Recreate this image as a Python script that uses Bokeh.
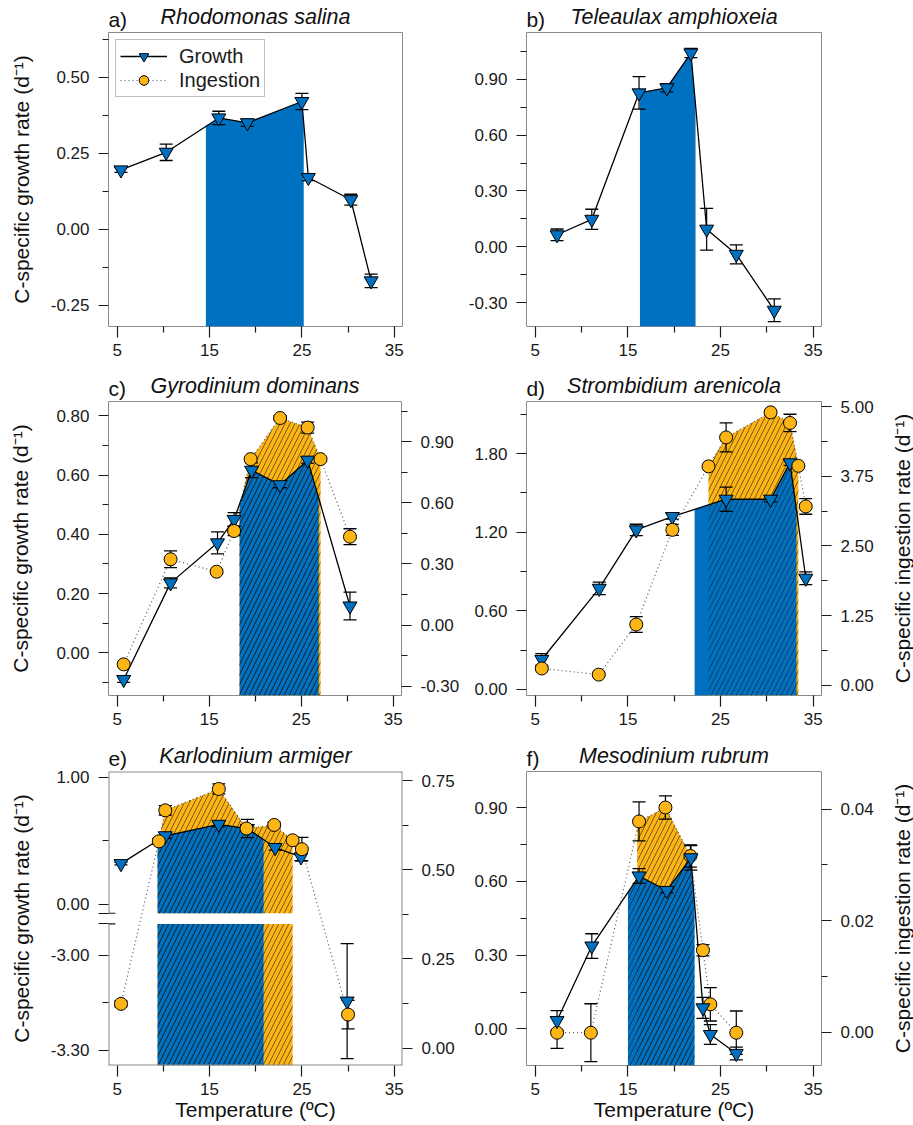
import math
import numpy as np
from bokeh.plotting import figure
from bokeh.models import (Range1d, LinearAxis, FixedTicker, NumeralTickFormatter,
                          CustomJSTickFormatter, Legend, LegendItem)
from bokeh.layouts import column, row
from bokeh.embed import file_html
from bokeh.resources import INLINE

# ---------------- data ----------------
species = ["Rhodomonas salina", "Teleaulax amphioxeia", "Gyrodinium dominans",
           "Strombidium arenicola", "Karlodinium armiger", "Mesodinium rubrum"]
panel_letters = ["a)", "b)", "c)", "d)", "e)", "f)"]
x_ticks = [5, 15, 25, 35]
x_minor_ticks = [10, 20, 30]
growth_label = "C-specific growth rate (d\u207b\u00b9)"
ingestion_label = "C-specific ingestion rate (d\u207b\u00b9)"
temp_label = "Temperature (\u00baC)"

# a) Rhodomonas salina
a_temp = [5.4, 10.3, 16.0, 19.1, 25.0, 25.7, 30.3, 32.5]
a_growth = [0.195, 0.253, 0.366, 0.350, 0.420, 0.170, 0.097, -0.170]
a_growth_err = [0.008, 0.027, 0.022, 0.012, 0.027, 0.010, 0.018, 0.022]
a_growth_shade = [14.6, 25.2]
a_y_ticks = [-0.25, 0.0, 0.25, 0.50]
a_y_minor = [-0.125, 0.125, 0.375, 0.625]

# b) Teleaulax amphioxeia
b_temp = [7.35, 11.1, 16.2, 19.2, 21.8, 23.5, 26.7, 30.8]
b_growth = [0.065, 0.148, 0.826, 0.853, 1.040, 0.095, -0.040, -0.340]
b_growth_err = [0.031, 0.054, 0.087, 0.022, 0.025, 0.112, 0.051, 0.061]
b_growth_shade = [16.3, 22.3]
b_y_ticks = [-0.30, 0.0, 0.30, 0.60, 0.90]
b_y_minor = [-0.15, 0.15, 0.45, 0.75, 1.05]

# c) Gyrodinium dominans
c_temp = [5.7, 10.8, 15.9, 17.7, 19.6, 22.7, 25.7, 30.3]
c_growth = [-0.090, 0.236, 0.371, 0.450, 0.616, 0.567, 0.650, 0.158]
c_growth_err = [0.010, 0.017, 0.037, 0.023, 0.025, 0.010, 0.010, 0.047]
c_ing_temp = [5.7, 10.8, 15.8, 17.7, 19.5, 22.7, 25.7, 27.1, 30.3]
c_ing = [-0.193, 0.323, 0.262, 0.462, 0.815, 1.017, 0.970, 0.815, 0.434]
c_ing_err = [0.010, 0.041, 0.010, 0.023, 0.010, 0.010, 0.027, 0.010, 0.039]
c_growth_shade = [18.3, 26.9]
c_ing_shade = [18.3, 27.1]
c_y_ticks = [0.0, 0.20, 0.40, 0.60, 0.80]
c_y_minor = [-0.10, 0.10, 0.30, 0.50, 0.70]
c_r_ticks = [-0.30, 0.0, 0.30, 0.60, 0.90]
c_r_minor = [-0.15, 0.15, 0.45, 0.75, 1.05]

# d) Strombidium arenicola
d_temp = [5.7, 11.9, 15.9, 19.8, 25.6, 30.4, 32.5, 34.2]
d_growth = [0.229, 0.772, 1.218, 1.320, 1.452, 1.452, 1.730, 0.849]
d_growth_err = [0.045, 0.048, 0.043, 0.020, 0.092, 0.020, 0.020, 0.048]
d_ing_temp = [5.7, 11.85, 15.9, 19.8, 23.7, 25.6, 30.4, 32.5, 33.4, 34.2]
d_ing = [0.30, 0.19, 1.09, 2.79, 3.93, 4.45, 4.90, 4.71, 3.94, 3.21]
d_ing_err = [0.02, 0.02, 0.14, 0.10, 0.02, 0.26, 0.02, 0.156, 0.02, 0.14]
d_growth_shade = [22.2, 33.2]
d_ing_shade = [23.7, 33.4]
d_y_ticks = [0.0, 0.60, 1.20, 1.80]
d_y_minor = [0.30, 0.90, 1.50, 2.10]
d_r_ticks = [0.0, 1.25, 2.50, 3.75, 5.00]
d_r_minor = [0.625, 1.875, 3.125, 4.375]

# e) Karlodinium armiger (broken growth axis)
e_temp = [5.4, 10.2, 16.0, 19.1, 22.1, 24.9, 29.9]
e_growth = [0.32, 0.54, 0.63, 0.597, 0.447, 0.373, -3.145]
e_growth_err = [0.01, 0.02, 0.02, 0.072, 0.02, 0.03, 0.182]
e_ing_temp = [5.4, 9.5, 10.2, 16.0, 19.0, 22.0, 24.0, 25.0, 30.0]
e_ing = [0.124, 0.580, 0.667, 0.727, 0.616, 0.626, 0.583, 0.558, 0.094]
e_ing_err = [0.008, 0.008, 0.013, 0.014, 0.008, 0.008, 0.008, 0.033, 0.040]
e_growth_shade = [9.37, 20.85]
e_ing_shade = [9.37, 24.0]
e_y_upper_ticks = [0.0, 1.00]
e_y_upper_minor = [0.50]
e_y_lower_ticks = [-3.30, -3.00]
e_y_lower_minor = [-3.15]
e_r_ticks = [0.0, 0.25, 0.50, 0.75]
e_r_minor = [0.125, 0.375, 0.625]

# f) Mesodinium rubrum
f_temp = [7.35, 11.1, 16.2, 19.2, 21.8, 23.1, 23.9, 26.7]
f_growth = [0.034, 0.337, 0.622, 0.563, 0.696, 0.0855, -0.023, -0.100]
f_growth_err = [0.040, 0.050, 0.030, 0.010, 0.050, 0.043, 0.040, 0.026]
f_ing_temp = [7.35, 11.0, 16.2, 19.05, 21.75, 23.1, 23.9, 26.7]
f_ing = [-0.0001, -0.0001, 0.0378, 0.0403, 0.0316, 0.0147, 0.0050, -0.0001]
f_ing_err = [0.0028, 0.0052, 0.0035, 0.0021, 0.0020, 0.0010, 0.0030, 0.0039]
f_growth_shade = [15.0, 22.2]
f_ing_shade = [16.0, 21.9]
f_y_ticks = [0.0, 0.30, 0.60, 0.90]
f_y_minor = [0.15, 0.45, 0.75]
f_r_ticks = [0.0, 0.02, 0.04]
f_r_minor = [0.01, 0.03]

# ---------------- style / layout ----------------
FONT = "Liberation Sans"
BLUE = "#0070C0"
ORANGE = "#FDB515"
FRAME = "#8a8a8a"
INK = "#1a1a1a"
X0, X1 = 4.05, 35.9
LEFT_W, RIGHT_W, LABEL_W = 462, 426, 25
ROW_H = [366, 368, 391]
ROW_BORDERS = [(32, 40), (35, 39), (37, 60)]

# broken-axis mapping for panel e (display units == upper-segment units)
E_BRK = dict(cut=-1.0, v0=-3.00, d0=-0.4028, k=2.493, gap=(-0.1556, -0.0711))


def to_disp(vals, brk):
    if brk is None:
        return [float(v) for v in vals]
    return [float(v) if v > brk["cut"] else brk["d0"] + (v - brk["v0"]) * brk["k"] for v in vals]


def shade_polys(xs, ys, xa, xb, y_bottom, brk):
    xs = np.asarray(xs, float)
    ys = np.asarray(ys, float)
    px = [xa] + [float(x) for x in xs if xa < x < xb] + [xb]
    py = [float(np.interp(x, xs, ys)) for x in px]
    if brk is None:
        return [(px + [xb, xa], py + [y_bottom, y_bottom])]
    g_lo, g_hi = brk["gap"]
    return [(px + [xb, xa], py + [g_hi, g_hi]),
            ([xa, xb, xb, xa], [g_lo, g_lo, y_bottom, y_bottom])]


def style_axis(ax, tick_out=10, minor_out=6, standoff=9):
    ax.axis_line_color = None
    ax.major_tick_line_color = INK
    ax.minor_tick_line_color = INK
    ax.major_tick_line_width = 1.2
    ax.minor_tick_line_width = 1.2
    ax.major_tick_in = 0
    ax.minor_tick_in = 0
    ax.major_tick_out = tick_out
    ax.minor_tick_out = minor_out
    ax.major_label_text_font = FONT
    ax.major_label_text_font_size = "17px"
    ax.major_label_text_color = INK
    ax.major_label_standoff = standoff
    ax.axis_label_text_font = FONT
    ax.axis_label_text_font_size = "21px"
    ax.axis_label_text_font_style = "normal"
    ax.axis_label_text_color = "#111111"


def err_bars(p, xs, ys, lo, hi, yname=None):
    kw = {} if yname is None else dict(y_range_name=yname)
    p.segment(x0=xs, y0=lo, x1=xs, y1=hi, line_color="black", line_width=1.2, **kw)
    p.scatter(xs, hi, marker="dash", size=13, line_color="black", line_width=1.3, **kw)
    p.scatter(xs, lo, marker="dash", size=13, line_color="black", line_width=1.3, **kw)


def build(cfg, col, ri):
    W = LEFT_W if col == 0 else (RIGHT_W + LABEL_W if ri == 0 else RIGHT_W)
    mb_l = 108 if col == 0 else 64
    mb_r = W - mb_l - (294 if col == 0 else 295)
    mb_t, mb_b = ROW_BORDERS[ri]
    y0, y1 = cfg["yr"]
    brk = cfg.get("brk")
    p = figure(width=W, height=ROW_H[ri], x_range=Range1d(X0, X1), y_range=Range1d(y0, y1),
               output_backend="svg", toolbar_location=None,
               min_border_left=mb_l, min_border_right=mb_r,
               min_border_top=mb_t, min_border_bottom=mb_b)
    p.grid.visible = False
    p.background_fill_color = "white"
    p.border_fill_color = "white"
    p.outline_line_color = None if brk else FRAME
    p.outline_line_width = 1

    # x axis
    xa = p.xaxis[0]
    xa.ticker = FixedTicker(ticks=x_ticks, minor_ticks=x_minor_ticks)
    xa.formatter = NumeralTickFormatter(format="0")
    style_axis(xa, tick_out=11, minor_out=6, standoff=6)
    xa.axis_label_standoff = 0
    if cfg.get("xlabel"):
        xa.axis_label = temp_label

    # panel heading: letter as a tick label, species as the (italic) label of a top axis
    top = LinearAxis()
    style_axis(top, tick_out=0, minor_out=0, standoff=2)
    top.ticker = FixedTicker(ticks=[X0 + cfg.get("letter_dx", 1.0)], minor_ticks=[])
    top.formatter = CustomJSTickFormatter(args=dict(lbl=cfg["letter"]), code="return lbl;")
    top.major_label_text_font_size = "21px"
    top.major_label_text_color = "#111111"
    top.axis_label = cfg["species"]
    top.axis_label_text_font_style = "italic"
    top.axis_label_text_font_size = "21.5px"
    top.axis_label_standoff = -24
    p.add_layout(top, "above")

    # left axis
    ya = p.yaxis[0]
    style_axis(ya)
    if brk is None:
        ya.ticker = FixedTicker(ticks=cfg["yt"], minor_ticks=cfg["ym"])
        ya.formatter = NumeralTickFormatter(format="0.00")
    else:
        g_lo, g_hi = brk["gap"]
        major = list(e_y_upper_ticks) + [g_lo, g_hi] + to_disp(e_y_lower_ticks, brk)
        minor = list(e_y_upper_minor) + to_disp(e_y_lower_minor, brk)
        ya.ticker = FixedTicker(ticks=major, minor_ticks=minor)
        ya.formatter = CustomJSTickFormatter(
            args=dict(d0=brk["d0"], k=brk["k"], v0=brk["v0"]),
            code="""
            if (tick > -0.03) return tick.toFixed(2);
            if (tick > -0.3) return "";
            return ((tick - d0) / k + v0).toFixed(2);
            """)
    if cfg.get("ylabel"):
        ya.axis_label = growth_label
        ya.axis_label_standoff = cfg.get("ylabel_standoff", 15)

    # right axis
    rr = cfg.get("rr")
    if rr is not None:
        p.extra_y_ranges = {"ing": Range1d(rr[0], rr[1])}
        rax = LinearAxis(y_range_name="ing")
        style_axis(rax)
        rax.ticker = FixedTicker(ticks=cfg["rt"], minor_ticks=cfg["rm"])
        rax.formatter = NumeralTickFormatter(format="0.00")
        p.add_layout(rax, "right")

    def to_left(vals):
        return [y0 + (v - rr[0]) * (y1 - y0) / (rr[1] - rr[0]) for v in vals]

    g_disp = to_disp(cfg["growth"], brk)
    has_ing = cfg.get("ing") is not None

    # shaded thermal windows
    if has_ing:
        ing_left = to_left(cfg["ing"])
        ing_polys = shade_polys(cfg["ing_temp"], ing_left, cfg["ing_shade"][0], cfg["ing_shade"][1], y0, brk)
        for px, py in ing_polys:
            p.patch(px, py, fill_color=ORANGE, line_color=None)
    g_polys = shade_polys(cfg["temp"], g_disp, cfg["g_shade"][0], cfg["g_shade"][1], y0, brk)
    for px, py in g_polys:
        p.patch(px, py, fill_color=BLUE, line_color=None)
    if has_ing:
        hatch = list(ing_polys) + (list(g_polys) if cfg.get("hatch_growth") else [])
        for px, py in hatch:
            p.patch(px, py, fill_alpha=0, line_color=None, hatch_pattern="/",
                    hatch_color="#1a1a1a", hatch_scale=10, hatch_weight=0.7, hatch_alpha=0.85)

    # frame for broken-axis panel
    if brk is not None:
        g_lo, g_hi = brk["gap"]
        p.segment(x0=[X0, X1, X0, X0, X0], y0=[y1, y0, y0, g_hi, y0],
                  x1=[X1, X1, X1, X0, X0], y1=[y1, y1, y0, y1, g_lo],
                  line_color=FRAME, line_width=2)
        p.segment(x0=[X0, X0], y0=[g_lo, g_hi], x1=[X0 + 0.75, X0 + 0.75], y1=[g_lo, g_hi],
                  line_color=INK, line_width=1.2)

    # lines
    g_line = [d if (brk is None or v > brk["cut"]) else float("nan")
              for v, d in zip(cfg["growth"], g_disp)]
    gl = p.line(cfg["temp"], g_line, line_color="black", line_width=1.3)
    if has_ing:
        p.line(cfg["ing_temp"], cfg["ing"], y_range_name="ing", line_color="#555555",
               line_dash="1 3", line_width=1.2)

    # error bars
    g_lo_v = to_disp([v - e for v, e in zip(cfg["growth"], cfg["gerr"])], brk)
    g_hi_v = to_disp([v + e for v, e in zip(cfg["growth"], cfg["gerr"])], brk)
    err_bars(p, cfg["temp"], g_disp, g_lo_v, g_hi_v)
    if has_ing:
        i_lo = [v - e for v, e in zip(cfg["ing"], cfg["ierr"])]
        i_hi = [v + e for v, e in zip(cfg["ing"], cfg["ierr"])]
        err_bars(p, cfg["ing_temp"], cfg["ing"], i_lo, i_hi, yname="ing")

    # markers
    def tri():
        return p.scatter(cfg["temp"], g_disp, marker="inverted_triangle", size=14,
                         fill_color=BLUE, line_color="black", line_width=1)

    def circ():
        return p.scatter(cfg["ing_temp"], cfg["ing"], y_range_name="ing", marker="circle", size=13,
                         fill_color=ORANGE, line_color="black", line_width=1)

    if has_ing:
        if cfg.get("tri_on_top"):
            circ(); gm = tri()
        else:
            gm = tri(); circ()
    else:
        gm = tri()

    # legend (panel a); the ingestion entry uses an empty (NaN) proxy renderer
    if cfg.get("legend"):
        nan = [float("nan")]
        dl = p.line(nan, nan, line_color="#555555", line_dash="1 3", line_width=1.2)
        dm = p.scatter(nan, nan, marker="circle", size=13, fill_color=ORANGE,
                       line_color="black", line_width=1)
        leg = Legend(items=[LegendItem(label="Growth", renderers=[gl, gm]),
                            LegendItem(label="Ingestion", renderers=[dl, dm])],
                     location="top_left")
        leg.label_text_font = FONT
        leg.label_text_font_size = "20px"
        leg.label_text_color = INK
        leg.glyph_width = 47
        leg.glyph_height = 24
        leg.label_height = 20
        leg.label_standoff = 12
        leg.padding = 4
        leg.spacing = 0
        leg.margin = 7
        leg.border_line_color = "#7f7f7f"
        leg.border_line_width = 1
        p.add_layout(leg)
    return p


def side_label(ri):
    """Narrow strip that carries the right-hand axis title, reading bottom-to-top."""
    mb_t, mb_b = ROW_BORDERS[ri]
    q = figure(width=LABEL_W, height=ROW_H[ri], x_range=Range1d(0, 1), y_range=Range1d(0, 1),
               output_backend="svg", toolbar_location=None,
               min_border_left=LABEL_W - 1, min_border_right=0,
               min_border_top=mb_t, min_border_bottom=mb_b)
    q.grid.visible = False
    q.outline_line_color = None
    q.xaxis.visible = False
    ax = q.yaxis[0]
    style_axis(ax, tick_out=0, minor_out=0, standoff=0)
    ax.ticker = FixedTicker(ticks=[], minor_ticks=[])
    ax.axis_label = ingestion_label
    ax.axis_label_standoff = 0
    return q


cfgs = [
    dict(letter=panel_letters[0], species=species[0], temp=a_temp, growth=a_growth, gerr=a_growth_err,
         g_shade=a_growth_shade, yr=(-0.32, 0.647), yt=a_y_ticks, ym=a_y_minor,
         ylabel=True, ylabel_standoff=15, legend=True),
    dict(letter=panel_letters[1], species=species[1], temp=b_temp, growth=b_growth, gerr=b_growth_err,
         g_shade=b_growth_shade, yr=(-0.427, 1.15), yt=b_y_ticks, ym=b_y_minor),
    dict(letter=panel_letters[2], species=species[2], temp=c_temp, growth=c_growth, gerr=c_growth_err,
         g_shade=c_growth_shade, ing_temp=c_ing_temp, ing=c_ing, ierr=c_ing_err, ing_shade=c_ing_shade,
         yr=(-0.144, 0.848), yt=c_y_ticks, ym=c_y_minor, rr=(-0.346, 1.098), rt=c_r_ticks, rm=c_r_minor,
         ylabel=True, ylabel_standoff=21, hatch_growth=True, letter_dx=0.95),
    dict(letter=panel_letters[3], species=species[3], temp=d_temp, growth=d_growth, gerr=d_growth_err,
         g_shade=d_growth_shade, ing_temp=d_ing_temp, ing=d_ing, ierr=d_ing_err, ing_shade=d_ing_shade,
         yr=(-0.046, 2.198), yt=d_y_ticks, ym=d_y_minor, rr=(-0.185, 5.095), rt=d_r_ticks, rm=d_r_minor,
         hatch_growth=False),
    dict(letter=panel_letters[4], species=species[4], temp=e_temp, growth=e_growth, gerr=e_growth_err,
         g_shade=e_growth_shade, ing_temp=e_ing_temp, ing=e_ing, ierr=e_ing_err, ing_shade=e_ing_shade,
         yr=(-1.272, 1.047), brk=E_BRK, rr=(-0.049, 0.776), rt=e_r_ticks, rm=e_r_minor,
         ylabel=True, ylabel_standoff=15, xlabel=True, hatch_growth=True),
    dict(letter=panel_letters[5], species=species[5], temp=f_temp, growth=f_growth, gerr=f_growth_err,
         g_shade=f_growth_shade, ing_temp=f_ing_temp, ing=f_ing, ierr=f_ing_err, ing_shade=f_ing_shade,
         yr=(-0.149, 1.047), yt=f_y_ticks, ym=f_y_minor, rr=(-0.00598, 0.04676), rt=f_r_ticks, rm=f_r_minor,
         xlabel=True, hatch_growth=True, tri_on_top=True, letter_dx=0.7),
]

figs = [build(c, i % 2, i // 2) for i, c in enumerate(cfgs)]
layout = column(row(figs[0], figs[1]),
                row(figs[2], figs[3], side_label(1)),
                row(figs[4], figs[5], side_label(2)))

open("out.html", "w").write(file_html(layout, INLINE))
